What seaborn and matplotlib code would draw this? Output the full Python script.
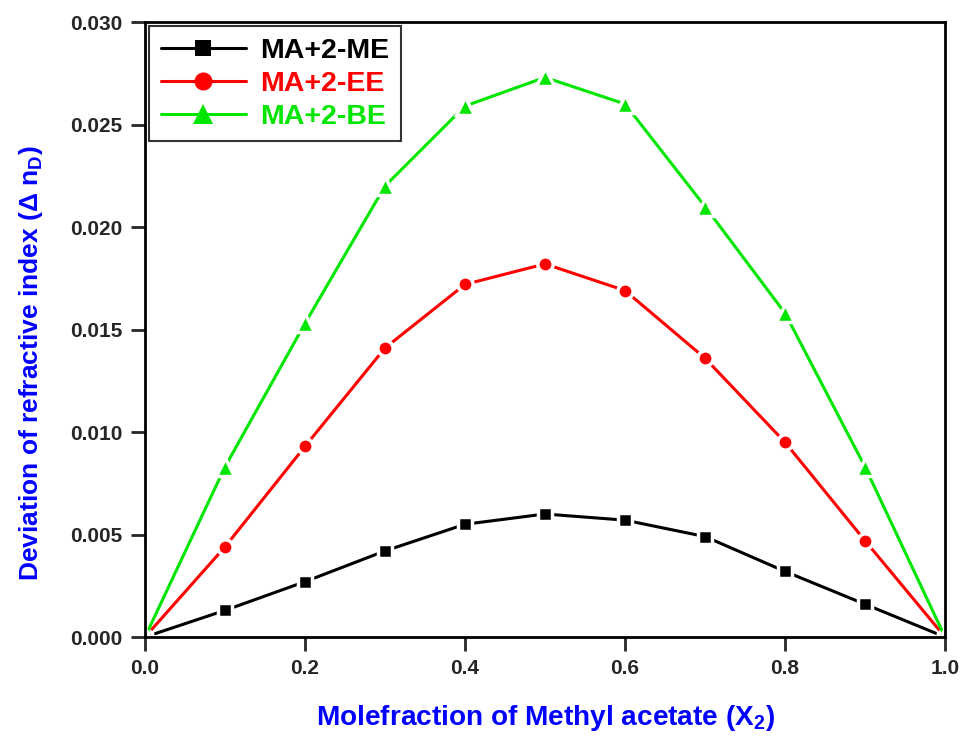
import pandas as pd
import numpy as np
import matplotlib
matplotlib.use('Agg')
import matplotlib.pyplot as plt
import seaborn as sns

sns.set_style('white')
plt.rcParams['font.family'] = ['Liberation Sans', 'DejaVu Sans']
plt.rcParams['mathtext.default'] = 'regular'

x = [0.0, 0.1, 0.2, 0.3, 0.4, 0.5, 0.6, 0.7, 0.8, 0.9, 1.0]
me = [0.0, 0.0013, 0.0027, 0.0042, 0.0055, 0.0060, 0.0057, 0.0049, 0.0032, 0.0016, 0.0]
ee = [0.0, 0.0044, 0.0093, 0.0141, 0.0172, 0.0182, 0.0169, 0.0136, 0.0095, 0.0047, 0.0]
be = [0.0, 0.0083, 0.0153, 0.0220, 0.0259, 0.0273, 0.0260, 0.0210, 0.0158, 0.0083, 0.0]
series = ['MA+2-ME', 'MA+2-EE', 'MA+2-BE']
colors = ['#000000', '#ff0000', '#00e600']
markers = ['s', 'o', '^']
msizes = [10.5, 11, 13.5]

df = pd.DataFrame({
    'x': x * 3,
    'y': me + ee + be,
    'mix': [s for s in series for _ in x],
})

fig = plt.figure(figsize=(9.63, 7.36), dpi=100)
ax = fig.add_axes([0.1506, 0.1345, 0.8307, 0.8356])

for s, c, m, ms in zip(series, colors, markers, msizes):
    sub = df[df['mix'] == s]
    sns.lineplot(data=sub, x='x', y='y', color=c, marker=m, label=s,
                 linewidth=2.2, markersize=ms, markeredgecolor='white',
                 markeredgewidth=2.5, ax=ax)

ax.set_xlim(0, 1.0)
ax.set_ylim(0, 0.030)
ax.set_xticks(np.arange(0, 1.01, 0.2))
ax.set_yticks(np.arange(0, 0.0301, 0.005))
ax.xaxis.set_major_formatter(matplotlib.ticker.FormatStrFormatter('%.1f'))
ax.yaxis.set_major_formatter(matplotlib.ticker.FormatStrFormatter('%.3f'))
ax.tick_params(axis='both', direction='out', length=10, width=2,
               labelsize=15, bottom=True, left=True, pad=6)
for lab in ax.get_xticklabels() + ax.get_yticklabels():
    lab.set_fontweight('bold')
for sp in ax.spines.values():
    sp.set_linewidth(2)
    sp.set_color('black')

ax.set_xlabel('Molefraction of Methyl acetate (X$_2$)', color='#0000ff',
              fontsize=20.2, fontweight='bold', labelpad=18)
ax.set_ylabel('Deviation of refractive index ($\\Delta$ n$_D$)', color='#0000ff',
              fontsize=19, fontweight='bold')
ax.yaxis.set_label_coords(-0.125, 0.4455)

handles, labels = ax.get_legend_handles_labels()
leg = ax.legend(handles, labels, loc='upper left',
                prop={'weight': 'bold', 'size': 20.5}, frameon=True,
                fancybox=False, edgecolor='black', handlelength=3.0,
                borderaxespad=0.15, labelspacing=0.25, borderpad=0.4,
                handletextpad=0.5)
leg.get_frame().set_linewidth(1.5)
for t, c in zip(leg.get_texts(), colors):
    t.set_color(c)
for h, ms in zip(leg.legend_handles, [12, 13, 15]):
    h.set_markersize(ms)
    h.set_markeredgewidth(0)

fig.savefig('out.png', dpi=100)
